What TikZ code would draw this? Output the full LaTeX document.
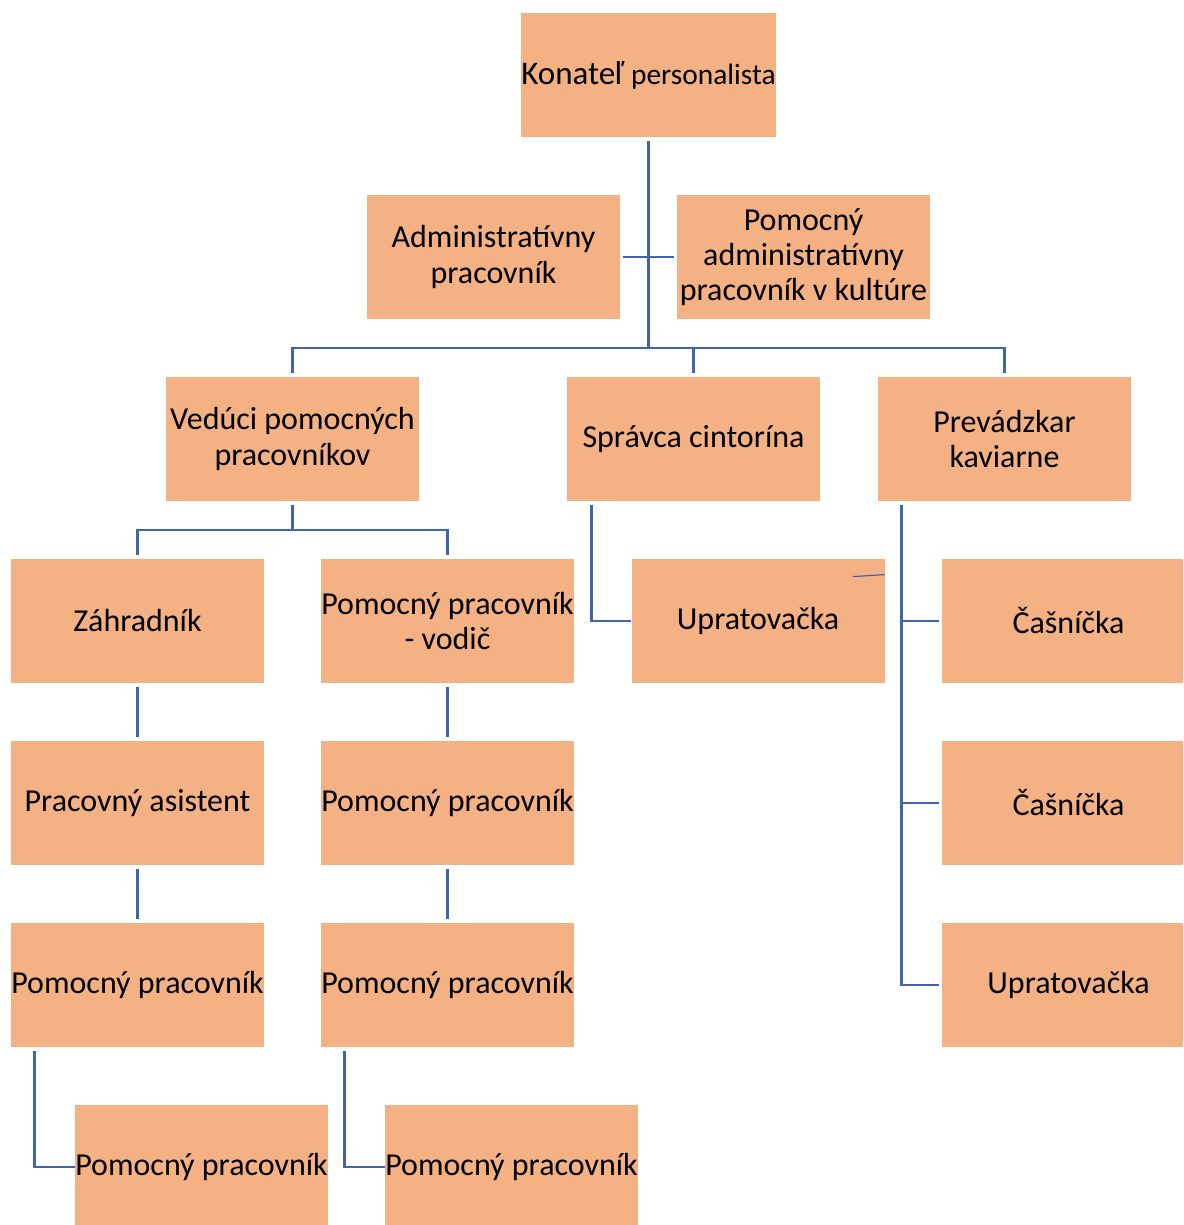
\documentclass[tikz,border=0pt]{standalone}
\usepackage{fontspec}
\setmainfont{Carlito}
\usetikzlibrary{positioning,calc}
\definecolor{boxfill}{RGB}{244,177,131}
\definecolor{linkblue}{RGB}{66,100,172}
\tikzset{>=latex}
\tikzstyle{post}=[fill=boxfill,minimum width=126.5pt,minimum height=62pt,inner sep=0pt,
                  align=center,font=\fontsize{16}{17.6}\selectfont]
\tikzstyle{link}=[linkblue,line width=1.4pt]

\begin{document}
\begin{tikzpicture}[x=0.5pt,y=-0.5pt]

  \useasboundingbox (0,0) rectangle (1183,1225);
  \clip (0,0) rectangle (1183,1225); % right and bottom boxes run off the page

  \node[post] (konatel) at (648.5,75) {{\fontsize{16.5}{20}\selectfont Konateľ}
    {\fontsize{14.7}{17}\selectfont personalista}};
  \node[post] (admin)   at (493.5,257) {Administratívny\\pracovník};
  \node[post] (padmin)  at (803.5,257) {Pomocný\\administratívny\\pracovník v kultúre};

  \node[post] (veduci)     at (292.5,439) {Vedúci pomocných\\pracovníkov};
  \node[post] (spravca)    at (693.5,439) {Správca cintorína};
  \node[post] (prevadzkar) at (1004.5,439) {Prevádzkar\\kaviarne};

  \node[post] (zahradnik) at (137.5,621) {Záhradník};
  \node[post] (vodic)     at (447.5,621) {Pomocný pracovník\\- vodič};
  \node[post] (upratA)    at (758,621) {Upratovačka};
  \node[post] (casnA)     at (1068.5,621) {Čašníčka};

  \node[post] (asistent)  at (137.5,803) {Pracovný asistent};
  \node[post] (pomocA)    at (447.5,803) {Pomocný pracovník};
  \node[post] (casnB)     at (1068.5,803) {Čašníčka};

  \node[post] (pomocB)    at (137.5,985) {Pomocný pracovník};
  \node[post] (pomocC)    at (447.5,985) {Pomocný pracovník};
  \node[post] (upratB)    at (1068.5,985) {Upratovačka};

  \node[post] (pomocD)    at (201.5,1167) {Pomocný pracovník};
  \node[post] (pomocE)    at (511.5,1167) {Pomocný pracovník};

  % top level
  \coordinate (bus) at (648.5,348);
  \draw[link] ([yshift=-2pt]konatel.south) -- (bus);
  \draw[link] ([xshift=1.5pt]admin.east) -- ([xshift=-1.5pt]padmin.west);
  \draw[link] ([yshift=2pt]veduci.north) |- (bus) -| ([yshift=2pt]prevadzkar.north);
  \draw[link] (bus -| spravca.north) -- ([yshift=2pt]spravca.north);

  % vedúci branch
  \coordinate (vbus) at (292.5,530);
  \draw[link] ([yshift=-2pt]veduci.south) -- (vbus);
  \draw[link] ([yshift=2pt]zahradnik.north) |- (vbus) -| ([yshift=2pt]vodic.north);
  \foreach \a/\b in {zahradnik/asistent,asistent/pomocB,vodic/pomocA,pomocA/pomocC}
    \draw[link] ([yshift=-2pt]\a.south) -- ([yshift=2pt]\b.north);
  \draw[link] ([xshift=12pt,yshift=-2pt]pomocB.south west) |- (pomocD.west);
  \draw[link] ([xshift=12pt,yshift=-2pt]pomocC.south west) |- (pomocE.west);

  % správca
  \draw[link] ([xshift=12.5pt,yshift=-2pt]spravca.south west) |- (upratA.west);
  \draw[linkblue,line width=0.6pt] ([xshift=-16pt,yshift=-9pt]upratA.north east)
    -- ([yshift=-8pt]upratA.north east);

  % kaviareň
  \coordinate (kav) at ([xshift=12pt,yshift=-2pt]prevadzkar.south west);
  \draw[link] (kav) |- ([xshift=-1.5pt]upratB.west);
  \foreach \n in {casnA,casnB}
    \draw[link] ([xshift=-1.5pt]\n.west) -- (\n.west -| kav);

\end{tikzpicture}
\end{document}
